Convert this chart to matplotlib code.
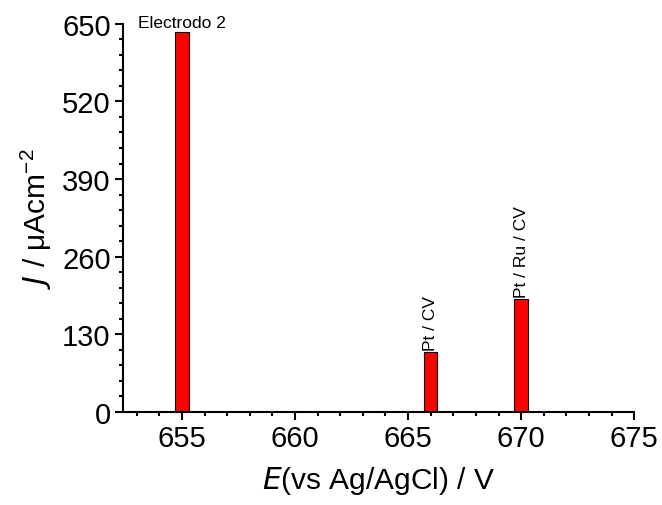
import matplotlib.pyplot as plt
from matplotlib.ticker import MultipleLocator

plt.rcParams['font.family'] = ['Liberation Sans', 'DejaVu Sans']

# datos
potentials = [655, 666, 670]
currents = [637, 100, 189]
labels = ["Electrodo 2", "Pt / CV", "Pt / Ru / CV"]
label_rot = [0, 90, 90]

fig = plt.figure(figsize=(6.62, 5.06), dpi=100)
ax = fig.add_axes([0.186, 0.184, 0.772, 0.767])

ax.bar(potentials, currents, width=0.6, color="#ff0000", edgecolor="black", linewidth=0.8)

for x, y, lab, rot in zip(potentials, currents, labels, label_rot):
    ax.text(x, y + 3, lab, rotation=rot, ha="center", va="bottom", fontsize=12.5)

ax.set_xlim(652.4, 675)
ax.set_ylim(0, 650)
ax.xaxis.set_major_locator(MultipleLocator(5))
ax.xaxis.set_minor_locator(MultipleLocator(1))
ax.yaxis.set_major_locator(MultipleLocator(130))
ax.yaxis.set_minor_locator(MultipleLocator(26))

for s in ["top", "right"]:
    ax.spines[s].set_visible(False)
for s in ["left", "bottom"]:
    ax.spines[s].set_linewidth(1.5)

ax.tick_params(which="major", length=6, width=1.5, labelsize=21, direction="out", pad=3)
ax.tick_params(which="minor", length=3, width=1.5, direction="out")

ax.set_xlabel("$\\it{E}$(vs Ag/AgCl) / V", fontsize=21.5, labelpad=8)
ax.set_ylabel("$\\it{J}$ / $\\mathregular{\\mu}$Acm$^{\\mathregular{-2}}$", fontsize=21.5, labelpad=6)

fig.savefig("out.png", dpi=100)
